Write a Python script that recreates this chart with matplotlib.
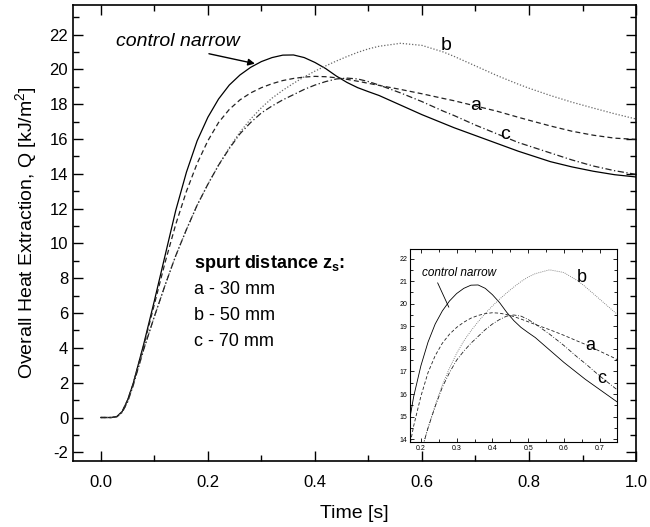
import matplotlib
matplotlib.use("Agg")
import matplotlib.pyplot as plt
from matplotlib.ticker import MultipleLocator

plt.rcParams['font.family'] = ['Liberation Sans', 'DejaVu Sans']
plt.rcParams['mathtext.fontset'] = 'custom'
plt.rcParams['mathtext.rm'] = 'Liberation Sans'
plt.rcParams['mathtext.bf'] = 'Liberation Sans:bold'
plt.rcParams['axes.unicode_minus'] = False

# time axis [s]
t = [0.00, 0.02, 0.03, 0.04, 0.05, 0.06, 0.08, 0.10, 0.12, 0.14, 0.16, 0.18,
     0.20, 0.22, 0.24, 0.26, 0.28, 0.30, 0.32, 0.34, 0.36, 0.38, 0.40, 0.42,
     0.44, 0.46, 0.48, 0.50, 0.52, 0.56, 0.60, 0.64, 0.66, 0.70, 0.74, 0.78,
     0.80, 0.84, 0.88, 0.92, 0.96, 1.00]

# overall heat extraction Q [kJ/m2]
q_control = [0, 0, 0.05, 0.35, 1.0, 1.9, 4.2, 6.7, 9.3, 11.9, 14.1, 15.9,
             17.25, 18.3, 19.1, 19.68, 20.12, 20.45, 20.68, 20.82, 20.83, 20.68, 20.4, 20.05,
             19.62, 19.25, 18.95, 18.72, 18.5, 17.95, 17.4, 16.9, 16.65, 16.2, 15.75, 15.3,
             15.1, 14.7, 14.4, 14.15, 13.95, 13.82]
q_a = [0, 0, 0.05, 0.35, 1.0, 1.9, 4.1, 6.5, 8.9, 11.1, 13.0, 14.6,
       15.9, 16.95, 17.7, 18.25, 18.65, 18.95, 19.18, 19.36, 19.48, 19.56, 19.6, 19.58,
       19.52, 19.43, 19.32, 19.2, 19.08, 18.85, 18.6, 18.33, 18.2, 17.9, 17.6, 17.25,
       17.08, 16.75, 16.45, 16.22, 16.05, 15.98]
q_b = [0, 0, 0.05, 0.3, 0.9, 1.8, 3.9, 5.8, 7.6, 9.3, 10.8, 12.2,
       13.4, 14.5, 15.5, 16.4, 17.15, 17.8, 18.35, 18.8, 19.2, 19.57, 19.9, 20.2,
       20.48, 20.74, 20.98, 21.18, 21.33, 21.5, 21.38, 21.0, 20.75, 20.2, 19.65, 19.15,
       18.92, 18.5, 18.12, 17.78, 17.45, 17.15]
q_c = [0, 0, 0.05, 0.3, 0.9, 1.8, 3.9, 5.8, 7.6, 9.3, 10.8, 12.2,
       13.4, 14.5, 15.45, 16.3, 16.95, 17.5, 17.9, 18.25, 18.55, 18.85, 19.1, 19.3,
       19.45, 19.5, 19.45, 19.3, 19.1, 18.65, 18.15, 17.6, 17.35, 16.8, 16.3, 15.8,
       15.6, 15.2, 14.8, 14.45, 14.18, 13.97]

legend_lines = ['a - 30 mm', 'b - 50 mm', 'c - 70 mm']


def draw_curves(ax, lw):
    ax.plot(t, q_control, color='black', lw=lw, ls='-')
    ax.plot(t, q_a, color='#222222', lw=lw, ls=(0, (4, 2.5)))
    ax.plot(t, q_b, color='#666666', lw=lw, ls=(0, (1, 1.5)))
    ax.plot(t, q_c, color='#222222', lw=lw, ls=(0, (5, 2, 1, 2)))


def style_ticks(ax, size, major_len, minor_len, width):
    ax.tick_params(which='both', direction='in', top=True, right=True,
                   labelsize=size, width=width)
    ax.tick_params(which='major', length=major_len)
    ax.tick_params(which='minor', length=minor_len)


fig = plt.figure(figsize=(6.5, 5.27), dpi=100)
ax = fig.add_axes([0.1123, 0.1252, 0.8662, 0.8653])
draw_curves(ax, 0.9)

ax.set_xlim(-0.052, 1.0)
ax.set_ylim(-2.5, 23.7)
ax.xaxis.set_major_locator(MultipleLocator(0.2))
ax.xaxis.set_minor_locator(MultipleLocator(0.1))
ax.yaxis.set_major_locator(MultipleLocator(2))
ax.yaxis.set_minor_locator(MultipleLocator(1))
ax.xaxis.set_major_formatter(plt.FormatStrFormatter('%.1f'))
style_ticks(ax, 12, 7, 4, 1.0)
ax.tick_params(axis='x', which='major', pad=10)
for s in ax.spines.values():
    s.set_linewidth(1.2)

ax.set_xlabel('Time [s]', fontsize=14, labelpad=11)
ax.set_ylabel(r'Overall Heat Extraction, Q [kJ/m$^2$]', fontsize=14, labelpad=7)

ax.text(0.029, 21.6, 'control narrow', fontsize=14, style='italic', va='center')
ax.annotate('', xy=(0.288, 20.33), xytext=(0.202, 20.9),
            arrowprops=dict(arrowstyle='-|>', color='black', lw=1.0,
                            mutation_scale=10, shrinkA=0, shrinkB=0))
ax.text(0.645, 21.4, 'b', fontsize=14, ha='center', va='center')
ax.text(0.70, 17.95, 'a', fontsize=14, ha='center', va='center')
ax.text(0.755, 16.25, 'c', fontsize=14, ha='center', va='center')

ax.text(0.174, 8.86, r'spurt distance z$_\mathbf{s}$:', fontsize=13,
        fontweight='bold', va='center')
for i, line in enumerate(legend_lines):
    ax.text(0.174, 7.37 - 1.5 * i, line, fontsize=13, va='center')

# inset zoom on the peaks
ins = fig.add_axes([0.631, 0.161, 0.318, 0.366])
draw_curves(ins, 0.6)
ins.set_xlim(0.17, 0.748)
ins.set_ylim(13.87, 22.41)
ins.xaxis.set_major_locator(MultipleLocator(0.1))
ins.xaxis.set_minor_locator(MultipleLocator(0.05))
ins.yaxis.set_major_locator(MultipleLocator(1))
ins.yaxis.set_minor_locator(MultipleLocator(0.5))
style_ticks(ins, 5, 3, 2, 0.6)
ins.tick_params(pad=2)
for s in ins.spines.values():
    s.set_linewidth(0.8)

ins.text(0.202, 21.38, 'control narrow', fontsize=8.5, style='italic', va='center')
ins.plot([0.247, 0.278], [20.92, 19.85], color='black', lw=0.6)
ins.text(0.651, 21.18, 'b', fontsize=13, ha='center', va='center')
ins.text(0.675, 18.15, 'a', fontsize=13, ha='center', va='center')
ins.text(0.705, 16.7, 'c', fontsize=13, ha='center', va='center')

fig.savefig('out.png', dpi=100)
